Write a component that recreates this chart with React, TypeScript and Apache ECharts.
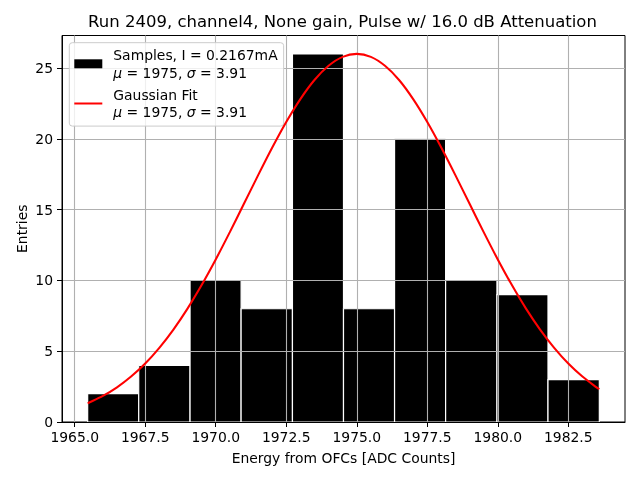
import React, { useEffect, useRef } from 'react';
import * as echarts from 'echarts';

// Histogram bins (edges) and entries
const binEdges = [1965.46, 1967.27, 1969.09, 1970.9, 1972.72, 1974.53, 1976.34, 1978.15, 1979.97, 1981.78, 1983.6];
const counts = [2, 4, 10, 8, 26, 8, 20, 10, 9, 3];

// Gaussian fit curve
const fitX = [
  1965.46, 1965.5, 1966, 1966.5, 1967, 1967.5, 1968, 1968.5, 1969, 1969.5, 1970, 1970.5, 1971, 1971.5,
  1972, 1972.5, 1973, 1973.5, 1974, 1974.5, 1975, 1975.5, 1976, 1976.5, 1977, 1977.5, 1978, 1978.5,
  1979, 1979.5, 1980, 1980.5, 1981, 1981.5, 1982, 1982.5, 1983, 1983.5, 1983.6,
];
const fitY = [
  1.33, 1.36, 1.84, 2.45, 3.21, 4.13, 5.24, 6.53, 8.01, 9.67, 11.48, 13.41, 15.41, 17.42,
  19.37, 21.19, 22.81, 24.16, 25.16, 25.79, 26.0, 25.79, 25.16, 24.16, 22.81, 21.19, 19.37, 17.42,
  15.41, 13.41, 11.48, 9.67, 8.01, 6.53, 5.24, 4.13, 3.21, 2.45, 2.32,
];

const xTicks = [1965, 1967.5, 1970, 1972.5, 1975, 1977.5, 1980, 1982.5];
const yTicks = [0, 5, 10, 15, 20, 25];

const titleText = 'Run 2409, channel4, None gain, Pulse w/ 16.0 dB Attenuation';
const xLabel = 'Energy from OFCs [ADC Counts]';
const yLabel = 'Entries';
const legendSamples = 'Samples, I = 0.2167mA';
const legendFit = 'Gaussian Fit';
const statsLine = '{i|μ} = 1975, {i|σ} = 3.91';

const FONT = 'DejaVu Sans';

export default function App() {
  const ref = useRef<HTMLDivElement>(null);
  useEffect(() => {
    if (!ref.current) return;
    const chart = echarts.init(ref.current, undefined, { renderer: 'svg' });
    const barData = counts.map((c, i) => [binEdges[i], binEdges[i + 1], c]);
    const fitData = fitX.map((x, i) => [x, fitY[i]]);
    const gridLines = [
      ...xTicks.map((v) => ({ xAxis: v })),
      ...yTicks.map((v) => ({ yAxis: v })),
    ];
    chart.setOption({
      animation: false,
      textStyle: { fontFamily: FONT },
      grid: {
        left: 62,
        top: 35.5,
        right: 15,
        bottom: 58,
        show: true,
        borderColor: '#000',
        borderWidth: 1,
        backgroundColor: '#fff',
      },
      graphic: [
        {
          type: 'text',
          x: 342.5,
          y: 21.5,
          style: {
            text: titleText,
            fontFamily: FONT,
            fontSize: 16.5,
            fill: '#000',
            textAlign: 'center',
            textVerticalAlign: 'middle',
          },
        },
      ],
      xAxis: {
        type: 'value',
        min: 1964.55,
        max: 1984.51,
        z: 6,
        name: xLabel,
        nameLocation: 'middle',
        nameGap: 29,
        nameTextStyle: { fontFamily: FONT, fontSize: 13.9, color: '#000' },
        axisLine: { show: true, onZero: false, lineStyle: { color: '#000', width: 1 } },
        axisTick: { show: true, length: 5, inside: false, customValues: xTicks, lineStyle: { color: '#000', width: 1 } },
        axisLabel: {
          show: true,
          customValues: xTicks,
          margin: 8,
          fontFamily: FONT,
          fontSize: 13.9,
          color: '#000',
          formatter: (v: number) => v.toFixed(1),
        },
        splitLine: { show: false },
      },
      yAxis: {
        type: 'value',
        min: 0,
        max: 27.3,
        z: 6,
        name: yLabel,
        nameLocation: 'middle',
        nameGap: 33,
        nameMoveOverlap: false,
        nameTextStyle: { fontFamily: FONT, fontSize: 13.9, color: '#000' },
        axisLine: { show: true, onZero: false, lineStyle: { color: '#000', width: 1 } },
        axisTick: { show: true, length: 5, inside: false, customValues: yTicks, lineStyle: { color: '#000', width: 1 } },
        axisLabel: {
          show: true,
          customValues: yTicks,
          margin: 9,
          fontFamily: FONT,
          fontSize: 13.9,
          color: '#000',
        },
        splitLine: { show: false },
      },
      legend: {
        left: 69.3,
        top: 42.7,
        orient: 'vertical',
        selectedMode: false,
        data: [
          { name: legendSamples, icon: 'rect' },
          { name: legendFit, icon: 'path://M0,0H140V10H0Z' },
        ],
        itemWidth: 28,
        itemHeight: 9,
        itemGap: 4.5,
        padding: [3.5, 6, 5, 5],
        backgroundColor: 'rgba(255,255,255,0.8)',
        borderColor: '#cccccc',
        borderWidth: 1,
        borderRadius: 3,
        formatter: (name: string) => name + '\n' + statsLine,
        textStyle: {
          fontFamily: FONT,
          fontSize: 13.9,
          color: '#000',
          lineHeight: 17.6,
          padding: [0, 0, 0, 6],
          rich: {
            i: { fontFamily: FONT, fontStyle: 'italic', fontSize: 13.9, color: '#000', lineHeight: 17.6 },
          },
        },
      },
      series: [
        {
          name: legendSamples,
          type: 'custom',
          z: 2,
          itemStyle: { color: '#000' },
          encode: { x: [0, 1], y: 2 },
          data: barData,
          renderItem: (params: any, api: any) => {
            const p0 = api.coord([api.value(0), api.value(2)]);
            const p1 = api.coord([api.value(1), 0]);
            return {
              type: 'rect',
              shape: { x: p0[0], y: p0[1], width: p1[0] - p0[0], height: p1[1] - p0[1] },
              style: { fill: '#000', stroke: '#fff', lineWidth: 1.2 },
            };
          },
        },
        {
          name: 'grid',
          type: 'line',
          z: 3,
          silent: true,
          showSymbol: false,
          symbol: 'none',
          lineStyle: { opacity: 0 },
          data: fitData,
          markLine: {
            z: 3,
            silent: true,
            symbol: ['none', 'none'],
            label: { show: false },
            emphasis: { disabled: true },
            lineStyle: { color: '#b0b0b0', width: 1.1, type: 'solid' },
            data: gridLines,
          },
        },
        {
          name: legendFit,
          type: 'line',
          z: 4,
          showSymbol: false,
          symbol: 'none',
          smooth: 0.3,
          color: '#ff0000',
          itemStyle: { color: '#ff0000' },
          lineStyle: { color: '#ff0000', width: 2.08 },
          data: fitData,
        },
      ],
    });
    return () => chart.dispose();
  }, []);
  return <div ref={ref} style={{ position: 'fixed', left: 0, top: 0, width: 640, height: 480 }} />;
}
